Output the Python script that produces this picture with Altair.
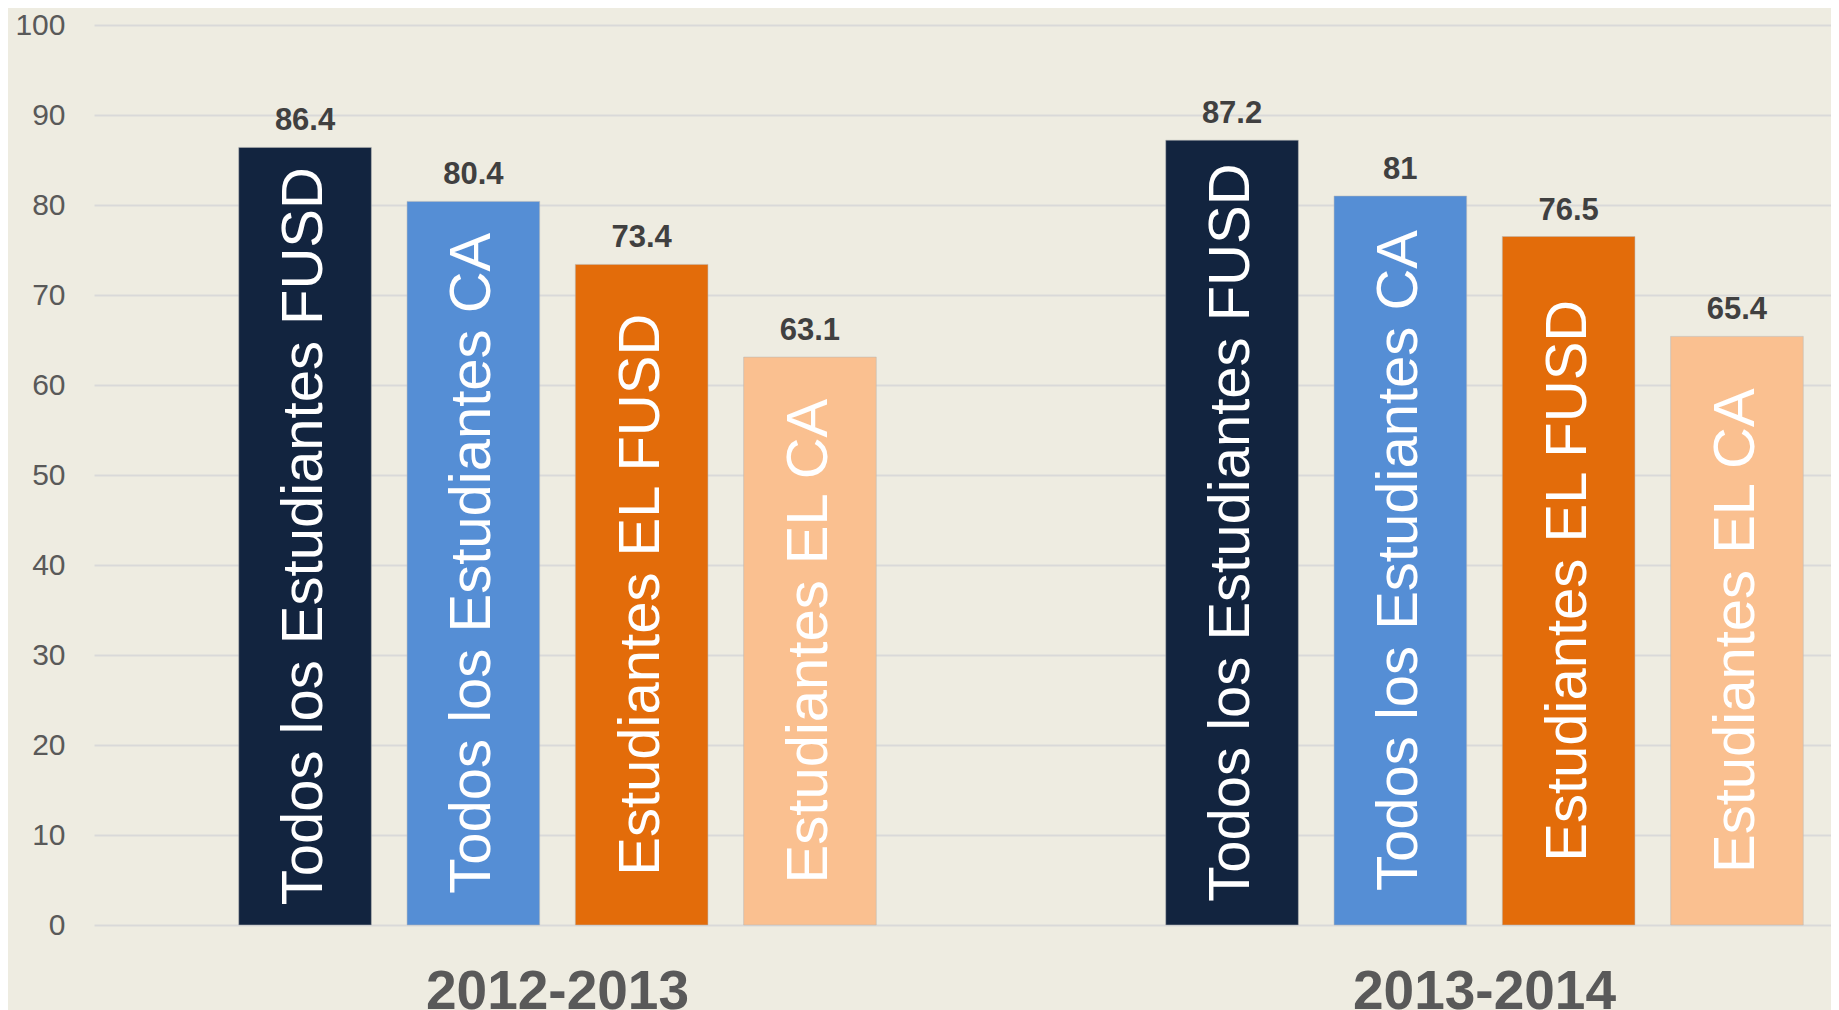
import altair as alt
import pandas as pd

# ---- data ----
years = ["2012-2013", "2013-2014"]
groups = [
    "Todos los Estudiantes FUSD",
    "Todos los Estudiantes CA",
    "Estudiantes EL FUSD",
    "Estudiantes EL CA",
]
values_2012_2013 = [86.4, 80.4, 73.4, 63.1]
values_2013_2014 = [87.2, 81, 76.5, 65.4]
bar_colors = ["#12243f", "#558ed5", "#e36c0a", "#fac090"]
y_ticks = [0, 10, 20, 30, 40, 50, 60, 70, 80, 90, 100]

rows = []
for year, vals in zip(years, [values_2012_2013, values_2013_2014]):
    for g, v in zip(groups, vals):
        rows.append({"year": year, "group": g, "value": v, "label": f"{v:g}"})
df = pd.DataFrame(rows)

PLOT_W = 1737
PLOT_H = 900

x_enc = alt.X(
    "year:N",
    sort=years,
    scale=alt.Scale(range=[0, 1854], paddingInner=0, paddingOuter=0),
    axis=alt.Axis(
        title=None,
        domain=False,
        ticks=False,
        tickSize=0,
        labelAngle=0,
        labelFont="Liberation Sans",
        labelFontWeight="bold",
        labelFontSize=55,
        labelColor="#595959",
        labelPadding=40,
        labelLimit=0,
    ),
)
xoff_enc = alt.XOffset(
    "group:N",
    sort=groups,
    scale=alt.Scale(paddingInner=0.212, paddingOuter=0.86),
)
y_scale = alt.Scale(domain=[0, 100], nice=False)

base = alt.Chart(df).encode(x=x_enc, xOffset=xoff_enc)

bars = base.mark_bar(stroke="#b8b8b8", strokeWidth=1, strokeOpacity=0.5).encode(
    y=alt.Y(
        "value:Q",
        scale=y_scale,
        axis=alt.Axis(
            title=None,
            values=y_ticks,
            domain=False,
            ticks=False,
            tickSize=0,
            grid=True,
            gridColor="#d9d9d9",
            gridWidth=2,
            labelFont="Liberation Sans",
            labelFontSize=30,
            labelColor="#595959",
            labelPadding=29,
            minExtent=86,
            maxExtent=86,
        ),
    ),
    color=alt.Color(
        "group:N",
        sort=groups,
        scale=alt.Scale(domain=groups, range=bar_colors),
        legend=None,
    ),
)

value_text = base.mark_text(
    font="Liberation Sans",
    fontWeight="bold",
    fontSize=31,
    color="#404040",
    baseline="alphabetic",
    align="center",
    dy=-17,
).encode(
    y=alt.Y("value:Q", scale=y_scale),
    text="label:N",
)

inner_text = base.transform_calculate(mid="datum.value / 2").mark_text(
    font="Liberation Sans",
    fontSize=58,
    color="#ffffff",
    angle=270,
    align="center",
    baseline="middle",
).encode(
    y=alt.Y("mid:Q", scale=y_scale),
    text="group:N",
)

chart = (
    alt.layer(bars, value_text, inner_text)
    .properties(
        width=PLOT_W,
        height=PLOT_H,
        autosize=alt.AutoSizeParams(type="none"),
        padding={"left": 86, "top": 17, "right": 0, "bottom": 85},
        background="#eeece1",
    )
    .configure_view(stroke=None)
)

chart.save("out.html", embed_options={"renderer": "svg", "actions": False})
